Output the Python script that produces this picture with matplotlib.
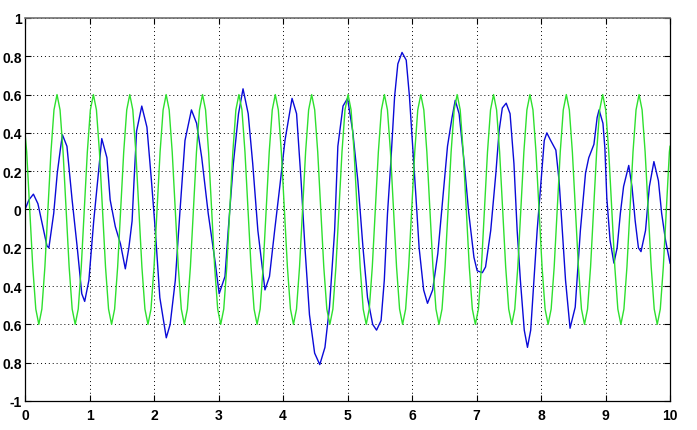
import matplotlib
matplotlib.use("Agg")
import matplotlib.pyplot as plt

# blue signal, points
blue_t = [0.0, 0.06, 0.13, 0.2, 0.27, 0.34, 0.37, 0.445, 0.50, 0.55, 0.58,
          0.65, 0.73, 0.81, 0.88, 0.925, 0.99, 1.065, 1.14, 1.19, 1.27, 1.32,
          1.40, 1.48, 1.555, 1.61, 1.66, 1.69, 1.73, 1.81, 1.89, 1.96, 2.02,
          2.09, 2.19, 2.25, 2.33, 2.40, 2.48, 2.58, 2.66, 2.74, 2.84, 2.95,
          3.01, 3.10, 3.15, 3.23, 3.31, 3.38, 3.46, 3.53, 3.61, 3.72, 3.79,
          3.87, 3.95, 4.03, 4.14, 4.21, 4.28, 4.34, 4.41, 4.49, 4.57, 4.65,
          4.72, 4.80, 4.85, 4.93, 5.0, 5.08, 5.16, 5.24, 5.31, 5.39, 5.45,
          5.52, 5.57, 5.62, 5.67, 5.73, 5.78, 5.845, 5.91, 5.96, 6.01, 6.06,
          6.11, 6.18, 6.24, 6.32, 6.40, 6.48, 6.55, 6.62, 6.67, 6.73, 6.81,
          6.88, 6.96, 7.01, 7.09, 7.14, 7.22, 7.30, 7.35, 7.40, 7.46, 7.52,
          7.58, 7.63, 7.68, 7.74, 7.79, 7.84, 7.89, 7.94, 8.0, 8.05, 8.09,
          8.15, 8.23, 8.28, 8.33, 8.38, 8.45, 8.53, 8.61, 8.69, 8.74, 8.82,
          8.87, 8.90, 8.96, 8.99, 9.02, 9.07, 9.13, 9.18, 9.23, 9.28, 9.36,
          9.41, 9.46, 9.51, 9.55, 9.62, 9.68, 9.75, 9.82, 9.87, 9.93, 10.0]
blue_y = [0.0, 0.05, 0.08, 0.03, -0.08, -0.19, -0.2, -0.02, 0.19, 0.32, 0.39,
          0.33, 0.05, -0.2, -0.44, -0.48, -0.37, -0.06, 0.2, 0.37, 0.27, 0.05,
          -0.09, -0.18, -0.31, -0.2, -0.06, 0.15, 0.41, 0.54, 0.43, 0.15, -0.11,
          -0.46, -0.67, -0.6, -0.37, -0.02, 0.36, 0.52, 0.45, 0.27, -0.02, -0.28,
          -0.44, -0.35, -0.11, 0.24, 0.50, 0.63, 0.5, 0.24, -0.11, -0.42, -0.35,
          -0.11, 0.12, 0.36, 0.58, 0.5, 0.15, -0.2, -0.55, -0.75, -0.81, -0.72,
          -0.51, -0.11, 0.33, 0.54, 0.58, 0.41, 0.15, -0.2, -0.46, -0.6, -0.63,
          -0.58, -0.37, -0.02, 0.24, 0.59, 0.76, 0.82, 0.78, 0.59, 0.33, 0.07,
          -0.2, -0.42, -0.49, -0.42, -0.23, 0.07, 0.33, 0.48, 0.57, 0.5, 0.24,
          -0.02, -0.25, -0.32, -0.33, -0.3, -0.11, 0.19, 0.41, 0.53, 0.555, 0.5,
          0.24, -0.11, -0.37, -0.63, -0.72, -0.63, -0.37, -0.11, 0.15, 0.36, 0.40,
          0.36, 0.31, 0.15, -0.11, -0.37, -0.62, -0.51, -0.11, 0.19, 0.27, 0.34,
          0.48, 0.52, 0.45, 0.32, 0.06, -0.16, -0.28, -0.2, -0.02, 0.12, 0.23,
          0.12, -0.06, -0.2, -0.22, -0.11, 0.12, 0.25, 0.15, -0.02, -0.16, -0.28]

# green wave, one row per cycle (trough to trough)
green_t = [0.0, 0.026, 0.073, 0.120, 0.167,
           0.214, 0.261, 0.308, 0.355, 0.402, 0.449, 0.496, 0.543, 0.590, 0.637, 0.684, 0.731,
           0.778, 0.825, 0.872, 0.919, 0.966, 1.013, 1.060, 1.107, 1.154, 1.201, 1.248, 1.295,
           1.342, 1.389, 1.436, 1.483, 1.530, 1.577, 1.624, 1.671, 1.718, 1.765, 1.812, 1.859,
           1.906, 1.953, 2.000, 2.047, 2.094, 2.141, 2.188, 2.235, 2.282, 2.329, 2.376, 2.423,
           2.470, 2.517, 2.564, 2.611, 2.658, 2.705, 2.752, 2.799, 2.846, 2.893, 2.940, 2.987,
           3.034, 3.081, 3.128, 3.175, 3.222, 3.269, 3.316, 3.363, 3.410, 3.457, 3.504, 3.551,
           3.598, 3.645, 3.692, 3.739, 3.786, 3.833, 3.880, 3.927, 3.974, 4.021, 4.068, 4.115,
           4.162, 4.209, 4.256, 4.303, 4.350, 4.397, 4.444, 4.491, 4.538, 4.585, 4.632, 4.679,
           4.726, 4.773, 4.820, 4.867, 4.914, 4.961, 5.008, 5.055, 5.102, 5.149, 5.196, 5.243,
           5.290, 5.337, 5.384, 5.431, 5.478, 5.525, 5.572, 5.619, 5.666, 5.713, 5.760, 5.807,
           5.854, 5.901, 5.948, 5.995, 6.042, 6.089, 6.136, 6.183, 6.230, 6.277, 6.324, 6.371,
           6.418, 6.465, 6.512, 6.559, 6.606, 6.653, 6.700, 6.747, 6.794, 6.841, 6.888, 6.935,
           6.982, 7.029, 7.076, 7.123, 7.170, 7.217, 7.264, 7.311, 7.358, 7.405, 7.452, 7.499,
           7.546, 7.593, 7.640, 7.687, 7.734, 7.781, 7.828, 7.875, 7.922, 7.969, 8.016, 8.063,
           8.110, 8.157, 8.204, 8.251, 8.298, 8.345, 8.392, 8.439, 8.486, 8.533, 8.580, 8.627,
           8.674, 8.721, 8.768, 8.815, 8.862, 8.909, 8.956, 9.003, 9.050, 9.097, 9.144, 9.191,
           9.238, 9.285, 9.332, 9.379, 9.426, 9.473, 9.520, 9.567, 9.614, 9.661, 9.708, 9.755,
           9.802, 9.849, 9.896, 9.943, 9.990, 10.0]
green_cycle = [-0.6, -0.52, -0.3, 0.0, 0.3, 0.52, 0.6, 0.52, 0.3, 0.0, -0.3, -0.52]
green_y = [0.40, 0.3, 0.0, -0.3, -0.52] + green_cycle * 17 + [-0.6, -0.52, -0.3, 0.0, 0.3, 0.33]

x_ticks = [0, 1, 2, 3, 4, 5, 6, 7, 8, 9, 10]
y_ticks = [-1, -0.8, -0.6, -0.4, -0.2, 0, 0.2, 0.4, 0.6, 0.8, 1]
y_labels = ["-1", "0.8", "0.6", "0.4", "0.2", "0", "0.2", "0.4", "0.6", "0.8", "1"]

plt.rcParams['font.family'] = ['Liberation Sans', 'DejaVu Sans']

fig = plt.figure(figsize=(6.97, 4.31), dpi=100)
ax = fig.add_axes([0.0359, 0.0673, 0.9254, 0.8887])

ax.plot(blue_t, blue_y, color='#0a0ad8', lw=1.0)
ax.plot(green_t, green_y, color='#2ee02e', lw=1.0)

ax.set_xlim(0, 10)
ax.set_ylim(-1, 1)
ax.set_xticks(x_ticks)
ax.set_xticklabels([str(v) for v in x_ticks])
ax.set_yticks(y_ticks)
ax.set_yticklabels(y_labels)

ax.grid(True, color='black', linestyle=(0, (1, 3)), linewidth=0.7)
ax.tick_params(direction='in', length=4, width=0.8, top=True, right=True,
               labelsize=10)
ax.tick_params(axis='y', pad=2.5)
ax.tick_params(axis='x', pad=5)
for lab in ax.get_xticklabels() + ax.get_yticklabels():
    lab.set_fontweight('bold')
for side in ['left', 'bottom', 'right']:
    ax.spines[side].set_color('black')
    ax.spines[side].set_linewidth(0.9)
ax.spines['top'].set_color('#707070')
ax.spines['top'].set_linewidth(1.2)

fig.savefig("out.png", dpi=100)
